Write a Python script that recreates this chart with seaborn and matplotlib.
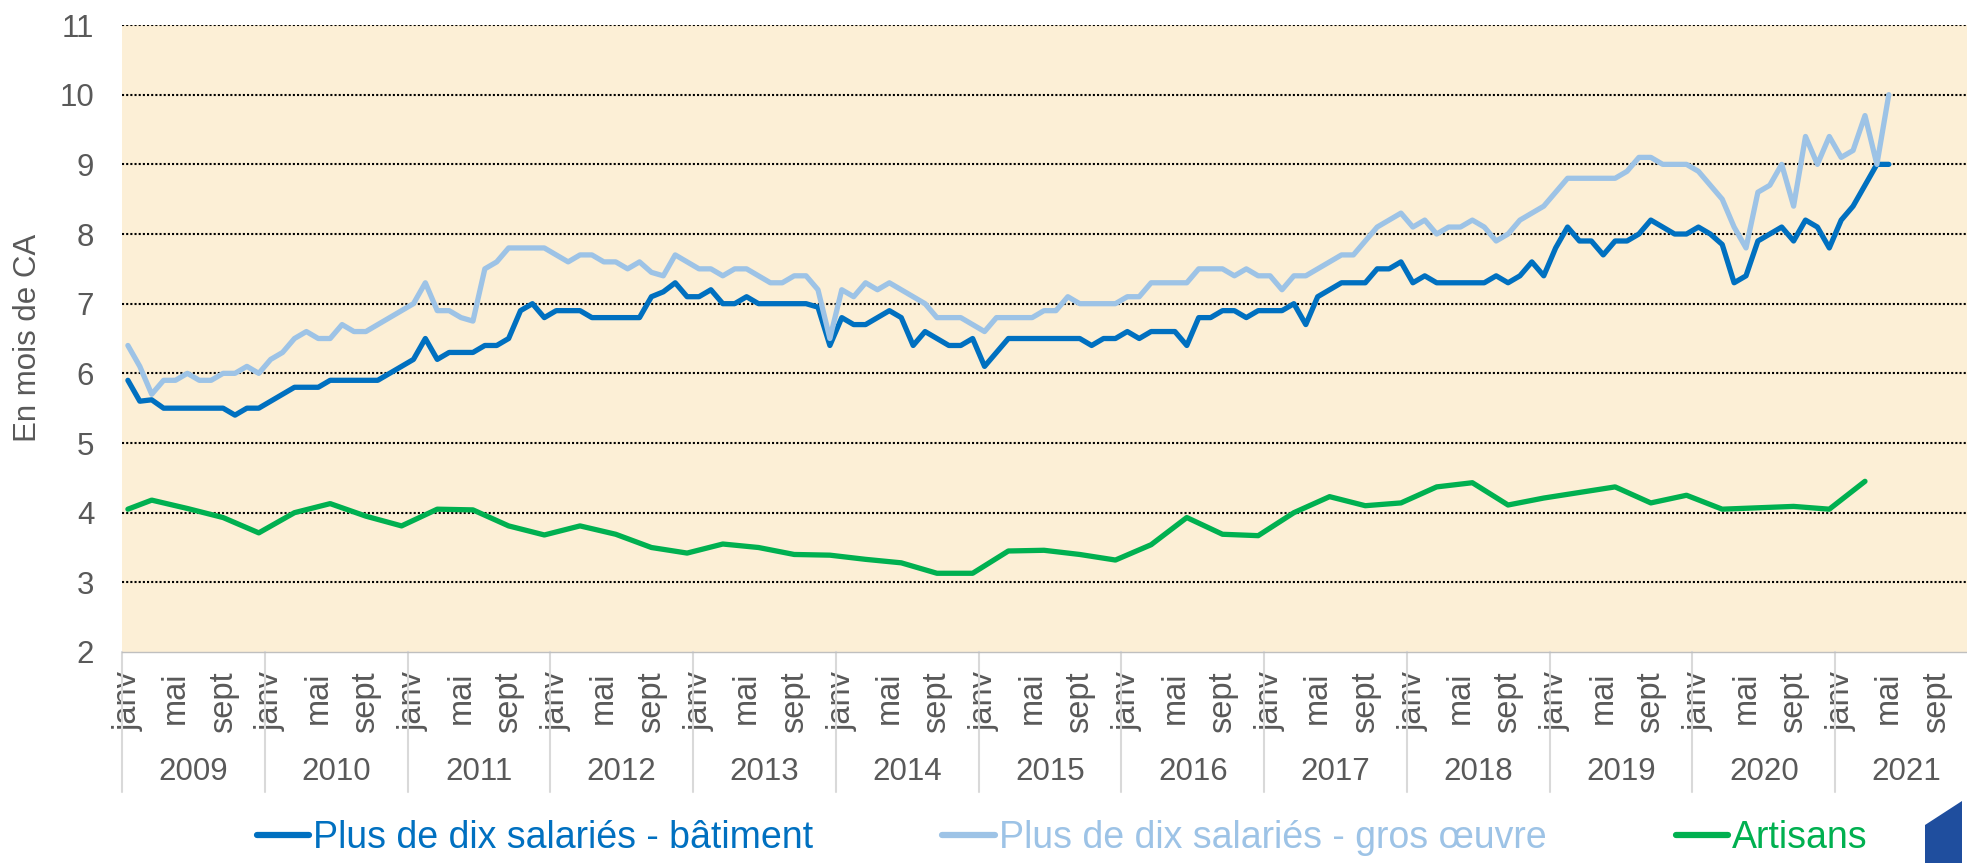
#!/usr/bin/env python3

import matplotlib

matplotlib.use("Agg")

import matplotlib.pyplot as plt
import matplotlib.transforms as mtransforms
import numpy as np
import pandas
import seaborn as sns
from matplotlib.patches import Polygon

# Monthly series, janv 2009 -> mai 2021 (in months of turnover)
batiment = [
    5.9, 5.6, 5.62, 5.5, 5.5, 5.5, 5.5, 5.5, 5.5, 5.4, 5.5, 5.5,
    5.6, 5.7, 5.8, 5.8, 5.8, 5.9, 5.9, 5.9, 5.9, 5.9, 6.0, 6.1,
    6.2, 6.5, 6.2, 6.3, 6.3, 6.3, 6.4, 6.4, 6.5, 6.9, 7.0, 6.8,
    6.9, 6.9, 6.9, 6.8, 6.8, 6.8, 6.8, 6.8, 7.1, 7.17, 7.3, 7.1,
    7.1, 7.2, 7.0, 7.0, 7.1, 7.0, 7.0, 7.0, 7.0, 7.0, 6.95, 6.4,
    6.8, 6.7, 6.7, 6.8, 6.9, 6.8, 6.4, 6.6, 6.5, 6.4, 6.4, 6.5,
    6.1, 6.3, 6.5, 6.5, 6.5, 6.5, 6.5, 6.5, 6.5, 6.4, 6.5, 6.5,
    6.6, 6.5, 6.6, 6.6, 6.6, 6.4, 6.8, 6.8, 6.9, 6.9, 6.8, 6.9,
    6.9, 6.9, 7.0, 6.7, 7.1, 7.2, 7.3, 7.3, 7.3, 7.5, 7.5, 7.6,
    7.3, 7.4, 7.3, 7.3, 7.3, 7.3, 7.3, 7.4, 7.3, 7.4, 7.6, 7.4,
    7.8, 8.1, 7.9, 7.9, 7.7, 7.9, 7.9, 8.0, 8.2, 8.1, 8.0, 8.0,
    8.1, 8.0, 7.85, 7.3, 7.4, 7.9, 8.0, 8.1, 7.9, 8.2, 8.1, 7.8,
    8.2, 8.4, 8.7, 9.0, 9.0,
]

gros_oeuvre = [
    6.4, 6.1, 5.7, 5.9, 5.9, 6.0, 5.9, 5.9, 6.0, 6.0, 6.1, 6.0,
    6.2, 6.3, 6.5, 6.6, 6.5, 6.5, 6.7, 6.6, 6.6, 6.7, 6.8, 6.9,
    7.0, 7.3, 6.9, 6.9, 6.8, 6.75, 7.5, 7.6, 7.8, 7.8, 7.8, 7.8,
    7.7, 7.6, 7.7, 7.7, 7.6, 7.6, 7.5, 7.6, 7.45, 7.4, 7.7, 7.6,
    7.5, 7.5, 7.4, 7.5, 7.5, 7.4, 7.3, 7.3, 7.4, 7.4, 7.2, 6.5,
    7.2, 7.1, 7.3, 7.2, 7.3, 7.2, 7.1, 7.0, 6.8, 6.8, 6.8, 6.7,
    6.6, 6.8, 6.8, 6.8, 6.8, 6.9, 6.9, 7.1, 7.0, 7.0, 7.0, 7.0,
    7.1, 7.1, 7.3, 7.3, 7.3, 7.3, 7.5, 7.5, 7.5, 7.4, 7.5, 7.4,
    7.4, 7.2, 7.4, 7.4, 7.5, 7.6, 7.7, 7.7, 7.9, 8.1, 8.2, 8.3,
    8.1, 8.2, 8.0, 8.1, 8.1, 8.2, 8.1, 7.9, 8.0, 8.2, 8.3, 8.4,
    8.6, 8.8, 8.8, 8.8, 8.8, 8.8, 8.9, 9.1, 9.1, 9.0, 9.0, 9.0,
    8.9, 8.7, 8.5, 8.1, 7.8, 8.6, 8.7, 9.0, 8.4, 9.4, 9.0, 9.4,
    9.1, 9.2, 9.7, 9.0, 10.0,
]

# Artisans: janv 2009 then quarterly (mars, juin, sept, dec) up to mars 2021
artisans_dates = ["2009-01"] + [
    f"{year}-{month:02d}" for year in range(2009, 2022) for month in (3, 6, 9, 12)
][:49]
artisans = [
    4.05, 4.18, 4.06, 3.93, 3.71, 4.00, 4.13, 3.95, 3.81, 4.05,
    4.04, 3.81, 3.68, 3.81, 3.69, 3.50, 3.42, 3.55, 3.50, 3.40,
    3.39, 3.33, 3.28, 3.13, 3.13, 3.45, 3.46, 3.40, 3.32, 3.54,
    3.93, 3.69, 3.67, 4.00, 4.23, 4.10, 4.14, 4.37, 4.43, 4.11,
    4.21, 4.29, 4.37, 4.14, 4.25, 4.05, 4.07, 4.09, 4.05, 4.45,
]

series_names = [
    "Plus de dix salariés - bâtiment",
    "Plus de dix salariés - gros œuvre",
    "Artisans",
]
series_colors = ["#0070C0", "#9DC3E6", "#00B050"]

years = list(range(2009, 2022))
month_labels = ["janv", "mai", "sept"]
yticks = list(range(2, 12))
ylabel = "En mois de CA"

TEXT_GREY = "#595959"


def month_index(date):
    """
    Turn 'YYYY-MM' into a month position counted from janv 2009.
    """
    year, month = date.split("-")
    return (int(year) - years[0]) * 12 + int(month) - 1


def build_frame():
    """
    Assemble a long data frame with one row per point.
    """
    rows = []
    for i, value in enumerate(batiment):
        rows.append([i, value, series_names[0]])
    for i, value in enumerate(gros_oeuvre):
        rows.append([i, value, series_names[1]])
    for date, value in zip(artisans_dates, artisans):
        rows.append([month_index(date), value, series_names[2]])
    return pandas.DataFrame(rows, columns=["mois", "valeur", "serie"])


def make_plot(df, outfile="out.png"):
    sns.set_style("white")
    plt.rcParams["font.family"] = ["Liberation Sans", "DejaVu Sans"]

    fig = plt.figure(figsize=(19.67, 8.63), dpi=100)
    # right edge of the plot runs off the picture, as in the source
    ax = fig.add_axes([0.0620, 0.2445, 0.9436, 0.7265])
    ax.set_facecolor("#FCEFD6")

    palette = dict(zip(series_names, series_colors))
    sns.lineplot(
        data=df,
        x="mois",
        y="valeur",
        hue="serie",
        hue_order=series_names,
        palette=palette,
        linewidth=3.8,
        estimator=None,
        legend=False,
        ax=ax,
    )
    handles = list(ax.get_lines())
    for line in handles:
        line.set_solid_joinstyle("round")
        line.set_solid_capstyle("round")
        line.set_zorder(3)

    n_months = len(years) * 12
    ax.set_xlim(-0.5, n_months - 0.5)
    ax.set_ylim(yticks[0], yticks[-1])

    # y axis
    ax.set_yticks(yticks)
    ax.set_yticklabels([str(t) for t in yticks], fontsize=22.5, color=TEXT_GREY)
    ax.tick_params(axis="y", length=0, pad=20)
    ax.yaxis.grid(True, color="black", linestyle=(0, (1, 1)), linewidth=1.5)
    ax.get_ygridlines()[0].set_visible(False)
    ax.xaxis.grid(False)

    for side in ["left", "right", "top"]:
        ax.spines[side].set_visible(False)
    ax.spines["bottom"].set_color("#BFBFBF")
    ax.spines["bottom"].set_linewidth(1.0)

    # month labels
    positions, labels = [], []
    for y in range(len(years)):
        for k, name in enumerate(month_labels):
            positions.append(y * 12 + k * 4)
            labels.append(name)
    ax.set_xticks(positions)
    ax.set_xticklabels(labels, rotation=90, fontsize=23.5, color=TEXT_GREY)
    ax.tick_params(axis="x", which="major", length=0, pad=14)
    ax.set_xticks(np.arange(-0.5, n_months - 0.5, 0.2), minor=True)
    ax.tick_params(
        axis="x", which="minor", length=3.6, width=0.8, color="#BFBFBF", direction="out"
    )
    ax.set_xlabel("")
    ax.set_ylabel("")

    # year separators and year labels under the month labels
    trans = mtransforms.blended_transform_factory(ax.transData, ax.transAxes)
    for y in range(len(years) + 1):
        ax.plot(
            [y * 12 - 0.5, y * 12 - 0.5],
            [0, -0.223],
            transform=trans,
            color="#D9D9D9",
            linewidth=1.5,
            clip_on=False,
        )
    for y, year in enumerate(years):
        ax.text(
            y * 12 + 5.5,
            -0.1914,
            str(year),
            transform=trans,
            ha="center",
            va="center",
            fontsize=22.5,
            color=TEXT_GREY,
        )

    fig.text(
        28 / 1967,
        1 - 338 / 863,
        ylabel,
        rotation=90,
        ha="center",
        va="center",
        fontsize=22.5,
        color=TEXT_GREY,
    )

    leg = fig.legend(
        handles,
        series_names,
        loc="center",
        bbox_to_anchor=(0.540, 0.029),
        ncol=3,
        frameon=False,
        fontsize=27,
        handlelength=1.4,
        handletextpad=0.1,
        columnspacing=3.45,
        labelcolor="linecolor",
    )
    for line in leg.get_lines():
        line.set_linewidth(4.5)

    # corner logo fragment
    corner = [(1925, 863), (1925, 825), (1962, 801), (1962, 863)]
    fig.patches.append(
        Polygon(
            [(x / 1967, 1 - y / 863) for x, y in corner],
            closed=True,
            transform=fig.transFigure,
            facecolor="#1F4E9E",
            edgecolor="none",
        )
    )

    fig.savefig(outfile, dpi=100, facecolor="white")
    plt.close(fig)


def main():
    df = build_frame()
    make_plot(df)


if __name__ == "__main__":
    main()
